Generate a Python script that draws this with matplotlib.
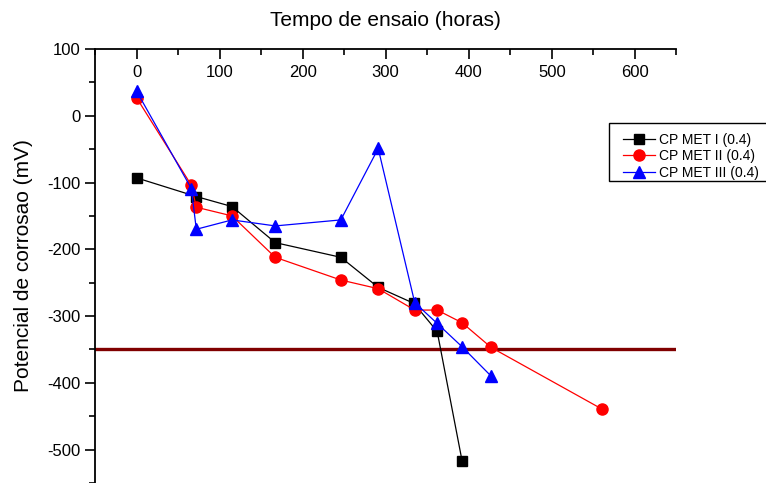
# --- Import statements ---
import matplotlib
matplotlib.use("Agg")  # No display available
import matplotlib.pyplot as plt  # Used to create the chart
from matplotlib.patches import Rectangle  # Legend box
from matplotlib.ticker import MultipleLocator  # Tick spacing


# --- Data ---
tempo_met1 = [0, 72, 115, 167, 246, 291, 334, 362, 392]
pot_met1 = [-93, -121, -136, -190, -212, -257, -281, -323, -517]

tempo_met2 = [0, 66, 72, 115, 167, 246, 291, 335, 362, 392, 427, 560]
pot_met2 = [27, -104, -137, -150, -212, -246, -259, -291, -291, -310, -347, -439]

tempo_met3 = [0, 66, 72, 115, 167, 246, 291, 335, 362, 392, 427]
pot_met3 = [37, -109, -170, -156, -165, -156, -49, -280, -311, -346, -390]

limite = -350  # Horizontal reference line (mV)

nomes = ["CP MET I (0.4)", "CP MET II (0.4)", "CP MET III (0.4)"]


# --- Figure setup ---
plt.rcParams['font.family'] = ['Liberation Sans', 'DejaVu Sans']
plt.rcParams['axes.unicode_minus'] = False  # plain hyphen like the original
W, H = 766, 483
fig = plt.figure(figsize=(W / 100, H / 100), dpi=100)
ax = fig.add_axes([0.124, 0.0, 0.759, 0.8986])


# --- Series ---
ax.plot(tempo_met1, pot_met1, color='black', lw=0.9, marker='s', ms=7, label=nomes[0])
ax.plot(tempo_met2, pot_met2, color='red', lw=0.9, marker='o', ms=8, label=nomes[1])
ax.plot(tempo_met3, pot_met3, color='blue', lw=0.9, marker='^', ms=8.5, label=nomes[2])
ax.axhline(limite, color='#800000', lw=2.4, zorder=1)


# --- Axes ---
ax.set_xlim(-50, 650)
ax.set_ylim(-550, 100)
ax.spines['right'].set_visible(False)
ax.spines['bottom'].set_visible(False)
ax.spines['top'].set_linewidth(1.3)
ax.spines['left'].set_linewidth(1.3)

ax.xaxis.set_major_locator(MultipleLocator(100))
ax.xaxis.set_minor_locator(MultipleLocator(50))
ax.yaxis.set_major_locator(MultipleLocator(100))
ax.yaxis.set_minor_locator(MultipleLocator(50))

ax.tick_params(axis='x', which='both', bottom=False, labelbottom=False,
               top=True, labeltop=True, direction='in', labelsize=12, pad=-22)
ax.tick_params(axis='x', which='major', length=7, width=1.2)
ax.tick_params(axis='x', which='minor', length=4, width=1.2)
ax.tick_params(axis='y', which='both', direction='out', labelsize=12, right=False)
ax.tick_params(axis='y', which='major', length=7, width=1.2)
ax.tick_params(axis='y', which='minor', length=4, width=1.2)

fig.text(0.503, 0.958, "Tempo de ensaio (horas)", fontsize=15, ha='center', va='center')
ax.set_ylabel("Potencial de corrosao (mV)", fontsize=15, labelpad=10)


# --- Legend (box drawn by hand, it runs off the right edge) ---
fig.patches.append(Rectangle((609 / W, 1 - 181 / H), 200 / W, 58 / H,
                             transform=fig.transFigure, facecolor='white',
                             edgecolor='black', lw=1.0, zorder=4))
handles, labels = ax.get_legend_handles_labels()
leg = fig.legend(handles, labels, loc='upper left', bbox_to_anchor=(623 / W, 1 - 133 / H),
                 bbox_transform=fig.transFigure, fontsize=10, frameon=False,
                 handlelength=2.3, handletextpad=0.3, labelspacing=0.17,
                 borderpad=0, borderaxespad=0)
leg.set_zorder(5)

fig.savefig("out.png", dpi=100)
